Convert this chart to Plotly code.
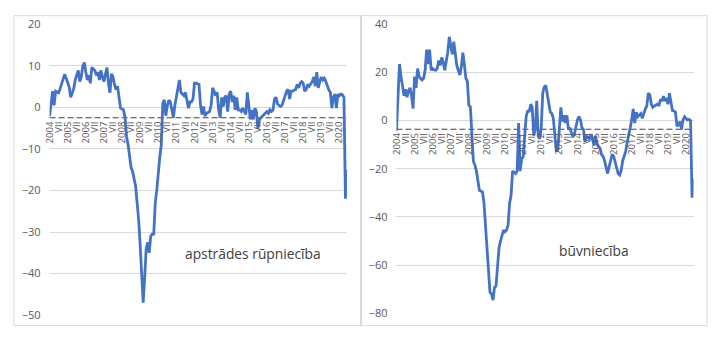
import plotly.graph_objects as go

# ---------------- data (monthly, Jan 2004 – Jun 2020) ----------------
years = list(range(2004, 2021))
roman = ["I", "II", "III", "IV", "V", "VI", "VII", "VIII", "IX", "X", "XI", "XII"]

manufacturing = [
    -2.1, 1, 3.9, 0.5, 3.9, 3.7, 3.5, 4.5, 5.5, 6.8, 8, 7,             # 2004
    5.8, 4.9, 2.4, 3.5, 4.5, 6.6, 7.8, 8.9, 6.2, 7.3, 10, 10.8,        # 2005
    8.5, 6.6, 7.7, 5.8, 9.6, 9.2, 8.9, 7.7, 8.5, 6.6, 8.9, 7.3,        # 2006
    6.2, 8, 9.6, 5.8, 3.5, 8.1, 7.3, 5.5, 4.3, 5.1, 2, -0.2,           # 2007
    -0.4, -0.6, -2.5, -7, -9, -12, -14.5, -15.4, -17, -19, -23, -27,   # 2008
    -33, -42, -47, -41, -34, -32.5, -35, -31, -30.5, -30.5, -23, -20,  # 2009
    -15, -12, -9, 1, 1.8, -2, 0.5, 1.7, 1.3, -1, -2.5, 0.5,            # 2010
    2.8, 4.3, 6.6, 3.6, 3.2, 2.8, 3.6, 1.7, -0.2, 1.3, 1.3, 2,         # 2011
    5.8, 5.8, 5.6, 5.5, 0.5, -1.7, 0.2, -2.1, -1.4, -1.2, -1, 0.5,     # 2012
    4.7, 3.9, 2.8, 3.6, -0.6, -2.5, 2.4, 0.2, 2.4, 2.8, -1, 3.2,       # 2013
    3.9, 1.3, 2.8, -0.6, 2.4, -0.6, -0.6, -1, -0.2, -1, -1.7, 3.6,     # 2014
    -0.6, -2.9, -0.6, -2.9, -0.2, -1, -5.2, -3, -2.5, -2.1, -1.7, -1.4,  # 2015
    -1, -1.4, -0.6, -1, -0.6, 2, 2.4, 0.8, 0.5, 0.2, 0.5, 1.7,         # 2016
    2.8, 3.9, 4.3, 2, 3.9, 3.9, 4.1, 4.3, 5.5, 4.7, 5.8, 6.2,          # 2017
    5.8, 3.9, 4.3, 5.5, 5.1, 5.8, 6.2, 7.3, 5.1, 8.5, 4.7, 6.2,        # 2018
    7.3, 6.6, 7, 6.2, 5.1, 4.2, 3.6, -0.2, 2.4, 3.2, -0.2, 3.2,        # 2019
    2.8, 3.2, 3, 2.4, -22, -15,                                        # 2020
]

construction = [
    -4.2, 10, 23.5, 18.3, 14, 10.3, 13, 9.7, 12.3, 13.6, 10.3, 5,               # 2004
    18.3, 13.6, 21.6, 18.3, 17.5, 16.9, 17.6, 20.9, 29.5, 23.5, 29.5, 20.9,     # 2005
    21.6, 21, 20.9, 21.6, 24.9, 22.9, 26.2, 24.2, 20.9, 24.9, 28.2, 34.8,       # 2006
    30.2, 27.5, 32.8, 28.8, 22.9, 20.9, 18.9, 22.2, 28.2, 23.5, 17.6, 16.3,     # 2007
    6.3, 5.7, -5.6, -17, -18.4, -21, -25, -29, -29.3, -29.6, -34, -44,          # 2008
    -55, -65, -71.3, -72, -74.6, -69.3, -68.7, -60.7, -52.8, -50, -47, -45.5,   # 2009
    -46.2, -45.5, -43.5, -34.3, -31, -21, -21.5, -22, -21, -1, -21, -16,        # 2010
    -15, -5, 1.6, 4.2, 3.6, 6.8, 5.5, -6.3, -3.7, 8.2, -6.3, -7.6,              # 2011
    -3, 11.5, 14, 14.6, 10.7, 8.1, 3.5, 2.9, 0.9, -6, -12.8, -12.2,             # 2012
    -5, 5.5, -0.4, 2.2, -1, 2.2, -3.7, -3, -5, -6.9, -5.6, -2.4,                # 2013
    0.3, 1.6, 0.3, -3, -3.7, -8.9, -6.3, -7, -7.6, -5.6, -8.2, -10.2,           # 2014
    -6.3, -9.5, -10.8, -11.5, -14.1, -14.8, -16.7, -19, -22, -19.3, -16.7, -14.1,  # 2015
    -14.8, -17.4, -20, -22, -22.6, -20.7, -16.7, -14.8, -12.8, -8.9, -6.3, -3,  # 2016
    0.3, 4.8, -1, 3.5, 1.6, 2.2, 2.9, 0.9, 3.5, 4.8, 6.1, 11.4,                 # 2017
    10.7, 6.8, 5.5, 6.1, 6.5, 6.8, 6.1, 8.8, 8.1, 10.1, 8.1, 9.4,               # 2018
    6.8, 11.4, 8.1, 4.2, 4, 3.5, -2.4, -1.7, -0.4, -3.7, 0.3, 1.6,              # 2019
    0.9, 0.3, 0.5, 0, -32, -24,                                                 # 2020
]

titles = ["apstrādes rūpniecība", "būvniecība"]

# month category labels: year for January, roman numeral otherwise
month_labels = []
for yr in years:
    for i, r in enumerate(roman):
        month_labels.append(str(yr) if i == 0 else r)
month_labels = month_labels[:len(manufacturing)]
assert len(manufacturing) == len(construction) == len(month_labels)

N = len(month_labels)
xs = list(range(N))
tick_idx = list(range(0, N, 6))
tick_txt = [month_labels[i] for i in tick_idx]

# ---------------- layout geometry ----------------
W, H = 720, 347
FONT = "Open Sans"
GRAY = "#595959"
BLUE = "#4472C4"

panels = [
    dict(x0=43, x1=343.3, ytop=17, ybot=321, rng=[-50, 20], dtick=10, cross=-2.5,
         box=(7, 358), title_xy=(248, 257)),
    dict(x0=393.3, x1=693.3, ytop=17, ybot=319, rng=[-80, 40], dtick=20, cross=-3.6,
         box=(357, 707), title_xy=(593, 253)),
]

fig = go.Figure()
series = [manufacturing, construction]
shapes, annotations = [], []
layout_axes = {}
for k, (p, vals) in enumerate(zip(panels, series)):
    sx = "" if k == 0 else str(k + 1)
    xa, ya = "x" + sx, "y" + sx
    fig.add_trace(go.Scatter(x=xs, y=vals, mode="lines", xaxis=xa, yaxis=ya,
                             line=dict(color=BLUE, width=2.8), showlegend=False,
                             hoverinfo="skip"))
    ydom = [1 - p["ybot"] / H, 1 - p["ytop"] / H]
    lo, hi = p["rng"]
    pos = ydom[0] + (p["cross"] - lo) / (hi - lo) * (ydom[1] - ydom[0])
    layout_axes["xaxis" + sx] = dict(
        domain=[p["x0"] / W, p["x1"] / W], range=[0, N - 1], anchor="free",
        position=pos, tickmode="array", tickvals=tick_idx, ticktext=tick_txt,
        tickangle=-90, tickfont=dict(size=9.5, color=GRAY, family=FONT),
        showgrid=False, zeroline=False, showline=False, ticks="", fixedrange=True,
        ticklabelstandoff=1)
    layout_axes["yaxis" + sx] = dict(
        domain=ydom, range=p["rng"], dtick=p["dtick"], anchor=xa,
        showgrid=True, gridcolor="#d9d9d9", gridwidth=1, zeroline=False,
        showline=False, ticks="", tickfont=dict(size=11, color=GRAY, family=FONT),
        ticklabelstandoff=8)
    # dashed horizontal axis line at the crossing value
    shapes.append(dict(type="line", xref=xa + " domain", x0=0, x1=1, yref=ya,
                       y0=p["cross"], y1=p["cross"], layer="below",
                       line=dict(color="#404040", width=1, dash="6px,3px")))
    # chart box
    bx0, bx1 = p["box"]
    shapes.append(dict(type="rect", xref="paper", yref="paper",
                       x0=bx0 / W, x1=bx1 / W, y0=1 - 332 / H, y1=1 - 8 / H,
                       line=dict(color="#d9d9d9", width=1), fillcolor="rgba(0,0,0,0)"))
    tx, ty = p["title_xy"]
    annotations.append(dict(text=titles[k], xref="paper", yref="paper",
                            x=tx / W, y=1 - ty / H, showarrow=False,
                            xanchor="center", yanchor="middle",
                            font=dict(size=13.8, color="#404040", family=FONT)))

fig.update_layout(width=W, height=H, margin=dict(l=0, r=0, t=0, b=0),
                  paper_bgcolor="white", plot_bgcolor="white",
                  shapes=shapes, annotations=annotations, **layout_axes)

fig.write_html("out.html")
